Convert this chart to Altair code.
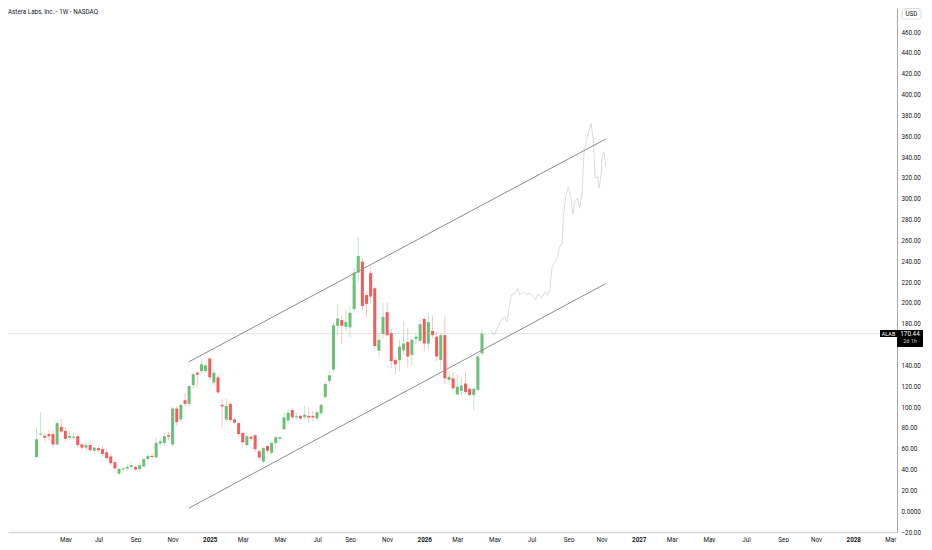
import altair as alt
import pandas as pd

# weekly bars, the first one is the IPO week
first_week = "2024-03-18"
opens = [52, 73.5, 72.5, 74, 74, 64, 81, 77, 70.5, 70.5,
         72, 64, 61, 63.5, 58, 60.5, 59.5, 56.5, 52.5, 47,
         36, 40, 41, 42.5, 42.5, 40.5, 43, 50, 53, 51.5,
         65, 65.5, 73, 64, 98.5, 88, 106.5, 103, 121, 133,
         134.5, 134.5, 146.5, 123.5, 128.5, 102, 88, 103, 88, 84.5,
         75, 63.5, 71.5, 73, 57.5, 47.5, 62.5, 56, 65.5, 69.5,
         78.5, 87, 97, 90, 91.5, 90.5, 91.5, 91.5, 89, 94,
         109.5, 125, 136, 178, 183.5, 177, 176.5, 194, 229, 239.5,
         207.5, 228.5, 214, 154, 170, 191, 171, 145, 145, 154.5,
         162.5, 150, 165.5, 163.5, 184.5, 161, 173, 167.5, 145, 169,
         126, 127.5, 112, 115.5, 122.5, 117.5, 111.5, 116.5, 151.5]
highs = [80, 95, 74, 78, 78, 87.5, 88.5, 81, 77, 76,
         74, 66, 66, 67, 62, 62, 63, 59, 55, 48,
         42, 43, 45, 47, 44, 46, 51, 55, 55, 70,
         70, 75, 76, 100, 101, 104, 113.5, 122, 133, 134,
         146, 142, 148, 136, 131, 108, 108, 105, 90, 86,
         76, 73, 73, 74, 60, 62, 64, 67, 72, 72,
         94.5, 98.5, 99, 95, 93, 101, 100, 96, 97, 103,
         125, 135, 181, 199, 188, 194, 197, 233, 263, 243,
         211, 234, 216, 173, 200, 200, 175, 148, 164, 182,
         175.5, 166, 170, 183.5, 187, 190, 188, 172, 171, 188,
         134, 134, 131, 128, 134, 118, 118, 150, 175]
lows = [51, 72, 66.5, 68, 60.5, 63.5, 75, 66.5, 68, 69,
        61, 59, 59, 57, 55, 56, 52, 49, 44, 39,
        34, 38, 39, 41, 39, 38, 42, 48, 50, 51,
        62, 63, 68, 62, 82, 85, 100, 100, 118, 119.5,
        132, 133, 126, 121, 112, 79.5, 86, 85, 83, 72,
        63, 62, 67, 57, 49, 46, 55, 54, 62, 68,
        78, 85, 88, 88, 87, 88, 85, 86, 87, 92,
        108, 122, 133, 168, 161, 173, 167, 190, 220, 192,
        186, 200, 155, 148, 165, 168, 137, 132, 134, 150,
        138.5, 140, 160, 161, 153, 155, 166, 143.5, 136, 122.5,
        123, 116, 111, 111, 113, 110, 97, 115, 149]
closes = [69, 74.5, 70.5, 72, 64, 84.5, 76.5, 69.5, 72, 71.5,
          63.5, 61, 63.5, 58.5, 61, 58.5, 55, 51, 46, 41,
          40.5, 41, 42.5, 44, 40, 44, 50, 53, 52, 65.5,
          67, 72, 71.5, 98.5, 85.5, 102, 103, 120, 131.5, 131,
          141, 140, 128.5, 133, 114, 100.5, 101, 87.5, 85, 74,
          66, 72, 69.5, 59.5, 51.5, 60.5, 58, 65.5, 71, 71,
          90, 94.5, 90, 91, 89, 92.5, 90, 90, 95, 102,
          122, 130.5, 178.5, 185, 178, 181.5, 190.5, 229, 245, 197,
          199, 206, 158.5, 164.5, 186.5, 169, 144, 141, 158, 161,
          148.5, 164.5, 167.5, 179.5, 161, 181.5, 169, 148.5, 169, 127.5,
          129, 118, 119.5, 120.5, 114.5, 111.5, 117.5, 148.5, 170.44]

# faint projected path drawn after the last bar
proj_dates = ["2026-04-28", "2026-05-04", "2026-05-10", "2026-05-16", "2026-05-21",
              "2026-05-25", "2026-05-31", "2026-06-02", "2026-06-08", "2026-06-13",
              "2026-06-16", "2026-06-22", "2026-06-28", "2026-07-03", "2026-07-09",
              "2026-07-13", "2026-07-17", "2026-07-23", "2026-07-29", "2026-08-02",
              "2026-08-06", "2026-08-10", "2026-08-15", "2026-08-19", "2026-08-23",
              "2026-08-27", "2026-08-29", "2026-09-02", "2026-09-06", "2026-09-11",
              "2026-09-14", "2026-09-17", "2026-09-22", "2026-09-26", "2026-09-30",
              "2026-10-03", "2026-10-07", "2026-10-11", "2026-10-15", "2026-10-19",
              "2026-10-22", "2026-10-26", "2026-10-29", "2026-11-01", "2026-11-03",
              "2026-11-06", "2026-11-09"]
proj_prices = [173.9, 169.1, 177, 183.5, 186.7,
               181.9, 202.7, 207.5, 209.1, 214,
               207.5, 210.7, 207.5, 209.7, 205.9,
               202.7, 208.5, 204.3, 210.7, 207.5,
               212.3, 234.7, 239.5, 244.3, 254,
               257.2, 282.7, 301.9, 310.9, 301.9,
               284.3, 297.1, 300.4, 290.8, 306.8,
               343.6, 354.8, 364.3, 372.4, 356.3,
               319.6, 321.1, 310, 322.7, 340.3,
               345.1, 330.7]

# hand drawn channel, start and end points
channel_dates = ["2024-12-02", "2026-11-09"]
upper_prices = [143.5, 357.3]
lower_prices = [3.0, 218.5]

month_ticks = ["2024-05-06", "2024-07-01", "2024-09-02", "2024-11-04",
               "2025-01-06", "2025-03-03", "2025-05-05", "2025-07-07", "2025-09-01", "2025-11-03",
               "2026-01-05", "2026-03-02", "2026-05-04", "2026-07-06", "2026-09-07", "2026-11-02",
               "2027-01-04", "2027-03-01", "2027-05-03", "2027-07-05", "2027-09-06", "2027-11-01",
               "2028-01-03", "2028-03-06"]
price_ticks = list(range(-20, 461, 20))

ticker = "ALAB"
countdown = "2d 1h"
title_text = "Astera Labs, Inc. - 1W - NASDAQ"

GREEN = "#6cbf77"
RED = "#f45b5b"
GREEN_WICK = "#c3e4c7"
RED_WICK = "#f9c4c4"
TEXT = "#131722"
FONT = "Roboto"
FS = 6.3

W, H = 889, 524
PX_FIRST = 28.5   # x of the first bar inside the plot
PX_WEEK = 4.125   # pixels per weekly bar

t0 = pd.Timestamp(first_week)
x_lo = t0 - pd.Timedelta(days=PX_FIRST / PX_WEEK * 7)
x_hi = t0 + pd.Timedelta(days=(W - PX_FIRST) / PX_WEEK * 7)
y_lo, y_hi = -20.0, 483.04


def ms(t):
    return int(pd.Timestamp(t).value // 10**6)


week_dates = pd.date_range(first_week, periods=len(opens), freq="7D")
candles = pd.DataFrame({
    "date": week_dates.strftime("%Y-%m-%d"),
    "open": opens, "high": highs, "low": lows, "close": closes,
})
proj = pd.DataFrame({"date": proj_dates, "price": proj_prices})
channel = pd.DataFrame({
    "date": channel_dates * 2,
    "price": upper_prices + lower_prices,
    "line": ["upper", "upper", "lower", "lower"],
})
last = pd.DataFrame({"price": [closes[-1]]})

x_axis = alt.Axis(
    values=[ms(d) for d in month_ticks],
    labelExpr="utcFormat(datum.value, '%m') == '01' ? utcFormat(datum.value, '%Y') : utcFormat(datum.value, '%b')",
    labelFontWeight=alt.condition("utcmonth(datum.value) == 0", alt.value("bold"), alt.value("normal")),
    labelFontSize=FS, labelFont=FONT, labelColor=TEXT, labelPadding=4,
    ticks=False, grid=False, domainColor="#d6d6d6", domainWidth=1.5, title=None,
)
y_axis = alt.Axis(
    orient="right", values=price_ticks,
    labelExpr="datum.value == 0 ? '0.0000' : format(datum.value, '.2f')",
    labelFontSize=FS, labelFont=FONT, labelColor=TEXT, labelPadding=4,
    ticks=False, grid=False, domainColor="#a8a8a8", title=None,
)
x_scale = alt.Scale(type="utc", domain=[ms(x_lo), ms(x_hi)], padding=0)
y_scale = alt.Scale(domain=[y_lo, y_hi], nice=False, zero=False)


def X(field):
    return alt.X(field, type="temporal", scale=x_scale, axis=x_axis)


def Y(field):
    return alt.Y(field, type="quantitative", scale=y_scale, axis=y_axis)


up = alt.datum.close >= alt.datum.open

price_line = alt.Chart(last).mark_rule(color="#e3e3e3", strokeWidth=1).encode(y=Y("price"))

wicks = alt.Chart(candles).mark_rule(strokeWidth=1).encode(
    x=X("date"), y=Y("low"), y2="high",
    color=alt.condition(up, alt.value(GREEN_WICK), alt.value(RED_WICK)),
)
bodies = alt.Chart(candles).mark_bar(size=3).encode(
    x=X("date"), y=Y("open"), y2="close",
    color=alt.condition(up, alt.value(GREEN), alt.value(RED)),
)
projection = alt.Chart(proj).mark_line(color="#dcdcdc", strokeWidth=1).encode(
    x=X("date"), y=Y("price"),
)
lines = alt.Chart(channel).mark_line(color="#8c8c8c", strokeWidth=1).encode(
    x=X("date"), y=Y("price"), detail="line:N",
)

# last price tags on the scale
tag_box = alt.Chart(last).mark_rect(color="#000000", yOffset=-3.6, y2Offset=13.4).encode(
    x=alt.value(W), x2=alt.value(W + 26), y=Y("price"), y2="price",
)
ticker_box = alt.Chart(last).mark_rect(color="#000000", yOffset=-3.6, y2Offset=3.4).encode(
    x=alt.value(W - 17), x2=alt.value(W), y=Y("price"), y2="price",
)
tag_price = alt.Chart(last).mark_text(color="white", fontSize=FS, font=FONT, align="center", baseline="middle").encode(
    x=alt.value(W + 13), y=Y("price"), text=alt.Text("price:Q", format=".2f"),
)
tag_time = alt.Chart(last).mark_text(color="#d0d0d0", fontSize=5.5, font=FONT, align="center", baseline="middle", dy=7).encode(
    x=alt.value(W + 13), y=Y("price"), text=alt.value(countdown),
)
tag_ticker = alt.Chart(last).mark_text(color="white", fontSize=5.5, font=FONT, align="center", baseline="middle").encode(
    x=alt.value(W - 8.5), y=Y("price"), text=alt.value(ticker),
)

title = alt.Chart(last).mark_text(color=TEXT, fontSize=FS, font=FONT, align="left", baseline="top").encode(
    x=alt.value(0), y=alt.value(1), text=alt.value(title_text),
)
usd_box = alt.Chart(last).mark_rect(fill="white", stroke="#dcdcdc", cornerRadius=2).encode(
    x=alt.value(W + 5), x2=alt.value(W + 24), y=alt.value(0.5), y2=alt.value(11),
)
usd_text = alt.Chart(last).mark_text(color=TEXT, fontSize=FS, font=FONT, align="center", baseline="middle").encode(
    x=alt.value(W + 14.5), y=alt.value(6), text=alt.value("USD"),
)

chart = alt.layer(
    price_line, wicks, bodies, projection, lines,
    ticker_box, tag_box, tag_price, tag_time, tag_ticker,
    title, usd_box, usd_text,
).properties(
    width=W, height=H,
    autosize=alt.AutoSizeParams(type="none"),
    padding={"left": 0, "top": 0, "right": 27, "bottom": 10},
    background="white",
).configure_view(stroke=None)

chart.save("out.html", embed_options={"renderer": "svg", "actions": False})
